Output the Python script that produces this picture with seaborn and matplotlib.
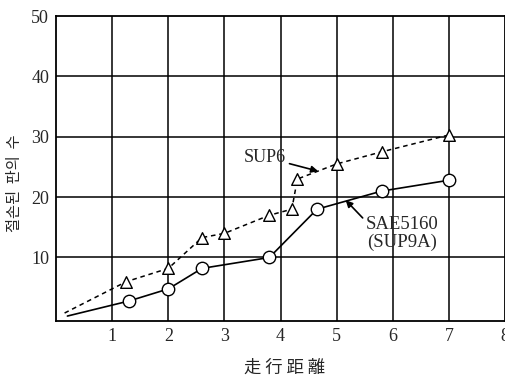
import matplotlib
matplotlib.use("Agg")
import matplotlib.pyplot as plt
import seaborn as sns
import pandas as pd

# Broken-plate counts vs. running distance for two spring steels
sup6_x = [0.15, 1.25, 2.0, 2.6, 3.0, 3.8, 4.2, 4.3, 5.0, 5.8, 7.0]
sup6_y = [0.8, 6.0, 8.2, 13.3, 14.0, 17.0, 18.0, 23.0, 25.5, 27.5, 30.3]
sae_x = [0.2, 1.3, 2.0, 2.6, 3.8, 4.65, 5.8, 7.0]
sae_y = [0.3, 2.8, 4.8, 8.2, 10.0, 18.0, 21.0, 22.8]

x_ticks = [1, 2, 3, 4, 5, 6, 7, 8]
y_ticks = [10, 20, 30, 40, 50]

sup6 = pd.DataFrame({"x": sup6_x, "y": sup6_y})
sae = pd.DataFrame({"x": sae_x, "y": sae_y})

sns.set_style("white")
plt.rcParams["font.family"] = ["Liberation Serif", "DejaVu Serif"]

fig = plt.figure(figsize=(5.06, 3.82), dpi=100)
ax = fig.add_axes([0.111, 0.16, 0.887, 0.798])

# grid
for xv in x_ticks[:-1]:
    ax.axvline(xv, color="black", lw=1.1, zorder=1)
for yv in y_ticks[:-1]:
    ax.axhline(yv, color="black", lw=1.1, zorder=1)

# lines
sns.lineplot(data=sup6, x="x", y="y", ax=ax, sort=False, color="black",
             lw=1.1, linestyle=(0, (3, 2.5)), zorder=2)
sns.lineplot(data=sae, x="x", y="y", ax=ax, sort=False, color="black",
             lw=1.2, zorder=2)

# markers (the origin points carry none)
sns.scatterplot(data=sup6.iloc[1:], x="x", y="y", ax=ax, marker="^", s=70,
                facecolor="white", edgecolor="black", linewidth=1.0, zorder=3)
sns.scatterplot(data=sae.iloc[1:], x="x", y="y", ax=ax, marker="o", s=80,
                facecolor="white", edgecolor="black", linewidth=1.0, zorder=3)

ax.set_xlim(0, 8)
ax.set_ylim(-0.5, 50)
ax.set_xticks(x_ticks)
ax.set_yticks(y_ticks)
ax.tick_params(length=0, labelsize=13, pad=5)
for s in ax.spines.values():
    s.set_color("black")
    s.set_linewidth(1.3)

# annotations
ax.annotate("SUP6", xy=(4.67, 24.3), xytext=(4.1, 26.6), fontsize=13,
            ha="right", va="center",
            arrowprops=dict(arrowstyle="-|>", color="black", lw=1.2,
                            mutation_scale=10, shrinkA=0, shrinkB=0))
ax.annotate("SAE5160\n(SUP9A)", xy=(5.16, 19.5), xytext=(6.17, 14.0),
            fontsize=13.5, ha="center", va="center", linespacing=1.0,
            arrowprops=dict(arrowstyle="-|>", color="black", lw=1.2,
                            mutation_scale=10, shrinkA=0, shrinkB=0,
                            relpos=(0.0, 0.85)))

ax.set_xlabel("走 行 距 離", family=["Noto Sans CJK JP", "DejaVu Sans"],
              fontsize=12.5)
ax.xaxis.set_label_coords(0.508, -0.125)
ax.set_ylabel("절손된  판의  수", family=["Noto Sans CJK KR", "DejaVu Sans"],
              fontsize=11)
ax.yaxis.set_label_coords(-0.075, 0.452)

fig.savefig("out.png", dpi=100)
